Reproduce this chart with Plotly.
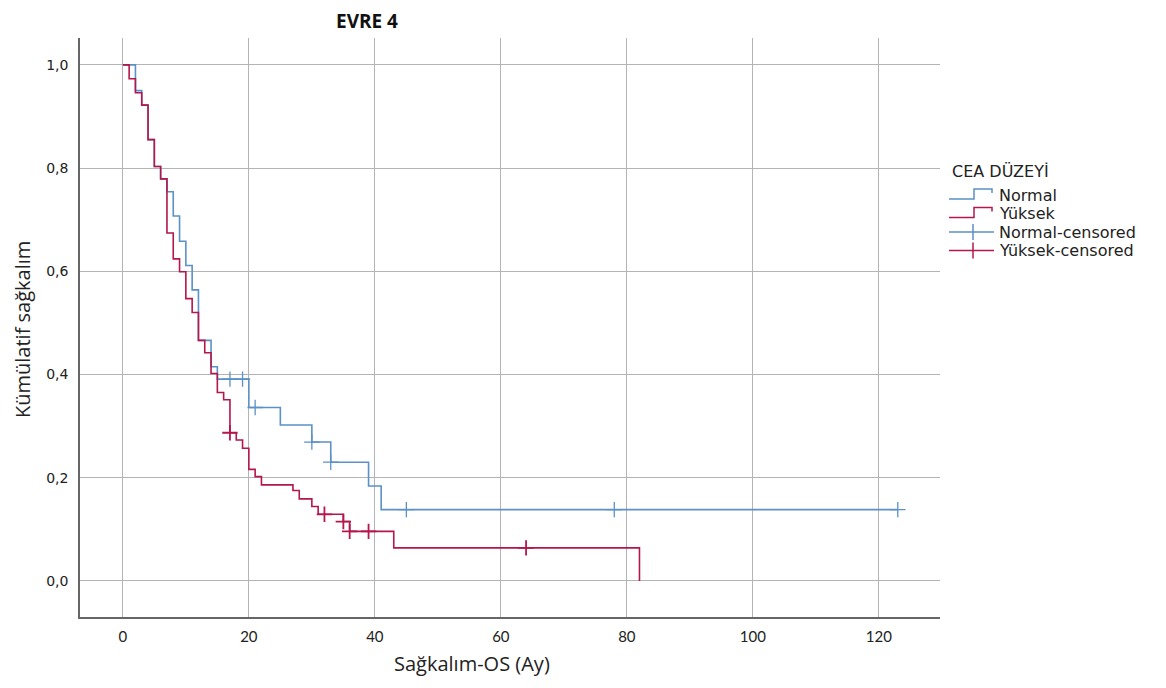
import plotly.graph_objects as go

# ---- data ----
normal_t = [0, 2, 3, 4, 5, 6, 7, 8, 9, 10, 11, 12, 14, 15, 20, 25, 30, 33, 39, 41, 123]
normal_s = [1.0, 0.95, 0.922, 0.855, 0.803, 0.779, 0.754, 0.707, 0.658, 0.611, 0.564,
            0.466, 0.415, 0.391, 0.336, 0.302, 0.269, 0.230, 0.184, 0.138, 0.138]
normal_cens_t = [17, 19, 21, 30, 33, 45, 78, 123]
normal_cens_s = [0.391, 0.391, 0.336, 0.269, 0.230, 0.138, 0.138, 0.138]

yuksek_t = [0, 1, 2, 3, 4, 5, 6, 7, 8, 9, 10, 11, 12, 13, 14, 15, 16, 17, 18, 19, 20,
            21, 22, 27, 28, 30, 31, 35, 36, 43, 82]
yuksek_s = [1.0, 0.973, 0.946, 0.922, 0.855, 0.803, 0.779, 0.674, 0.624, 0.599, 0.547,
            0.520, 0.466, 0.442, 0.402, 0.365, 0.351, 0.287, 0.273, 0.257, 0.216,
            0.202, 0.186, 0.175, 0.159, 0.144, 0.129, 0.115, 0.096, 0.064, 0.0]
yuksek_cens_t = [17, 32, 35, 36, 39, 64]
yuksek_cens_s = [0.287, 0.129, 0.115, 0.096, 0.096, 0.064]

x_ticks = [0, 20, 40, 60, 80, 100, 120]
y_ticks = [0.0, 0.2, 0.4, 0.6, 0.8, 1.0]

legend_title = "CEA DÜZEYİ"
legend_names = ["Normal", "Yüksek", "Normal-censored", "Yüksek-censored"]

BLUE = "#5b91c6"
RED = "#b3174b"
TXT = "#222222"

W, H = 1166, 688
L, R, T, B = 80, 226, 38, 71
pw, ph = W - L - R, H - T - B


def px(xp):
    return (xp - L) / pw


def py(yp):
    return (H - B - yp) / ph


fig = go.Figure()
fig.add_trace(go.Scatter(x=normal_t, y=normal_s, mode="lines", line_shape="hv",
                         line=dict(color=BLUE, width=1.6), name=legend_names[0],
                         showlegend=False))
fig.add_trace(go.Scatter(x=yuksek_t, y=yuksek_s, mode="lines", line_shape="hv",
                         line=dict(color=RED, width=1.6), name=legend_names[1],
                         showlegend=False))
fig.add_trace(go.Scatter(x=normal_cens_t, y=normal_cens_s, mode="markers",
                         marker=dict(symbol="cross-thin", size=11,
                                     line=dict(color=BLUE, width=1.3)),
                         name=legend_names[2], showlegend=False))
fig.add_trace(go.Scatter(x=yuksek_cens_t, y=yuksek_cens_s, mode="markers",
                         marker=dict(symbol="cross-thin", size=11,
                                     line=dict(color=RED, width=1.8)),
                         name=legend_names[3], showlegend=False))

fig.update_layout(
    width=W, height=H,
    margin=dict(l=L, r=R, t=T, b=B),
    paper_bgcolor="white", plot_bgcolor="white",
    separators=",.",
    showlegend=False,
    xaxis=dict(range=[-6.8, 129.7], tickvals=x_ticks, ticktext=[str(v) for v in x_ticks],
               showgrid=True, gridcolor="#b4b4b4", gridwidth=1,
               showline=True, linecolor="#666", linewidth=1.5,
               zeroline=False, ticks="", ticklabelstandoff=5,
               tickfont=dict(family="Lato, Open Sans", size=15, color=TXT)),
    yaxis=dict(range=[-0.07, 1.052], tickvals=y_ticks, tickformat=".1f",
               showgrid=True, gridcolor="#b4b4b4", gridwidth=1,
               showline=True, linecolor="#666", linewidth=1.5,
               zeroline=False, ticks="", ticklabelstandoff=7,
               tickfont=dict(family="DejaVu Sans, Arial", size=14, color=TXT)),
)

# titles
fig.add_annotation(text="<b>EVRE 4</b>", x=px(367), y=py(21), xref="paper", yref="paper",
                   showarrow=False, xanchor="center", yanchor="middle",
                   font=dict(family="Open Sans", size=19, color="#111"))
fig.add_annotation(text="Sağkalım-OS (Ay)", x=px(472), y=py(663), xref="paper", yref="paper",
                   showarrow=False, xanchor="center", yanchor="middle",
                   font=dict(family="Open Sans", size=20, color=TXT))
fig.add_annotation(text="Kümülatif sağkalım", x=px(22), y=py(330), xref="paper", yref="paper",
                   showarrow=False, xanchor="center", yanchor="middle", textangle=-90,
                   font=dict(family="Open Sans", size=20, color=TXT))

# legend (drawn manually to match the tight SPSS layout)
fig.add_annotation(text=legend_title, x=px(950), y=py(172), xref="paper", yref="paper",
                   showarrow=False, xanchor="left", yanchor="middle",
                   font=dict(family="DejaVu Sans, Arial", size=16, color=TXT))
item_y = [195, 213.5, 232, 250.5]
item_col = [BLUE, RED, BLUE, RED]
for name, yc, col, k in zip(legend_names, item_y, item_col, range(4)):
    fig.add_annotation(text=name, x=px(997), y=py(yc), xref="paper", yref="paper",
                       showarrow=False, xanchor="left", yanchor="middle",
                       font=dict(family="DejaVu Sans, Arial", size=16, color=TXT))
    if k < 2:
        path = (f"M {px(949)} {py(yc + 4)} L {px(974)} {py(yc + 4)} "
                f"L {px(974)} {py(yc - 6)} L {px(992)} {py(yc - 6)} L {px(992)} {py(yc - 2)}")
        fig.add_shape(type="path", path=path, xref="paper", yref="paper",
                      line=dict(color=col, width=1.5))
    else:
        fig.add_shape(type="line", x0=px(949), x1=px(994), y0=py(yc), y1=py(yc),
                      xref="paper", yref="paper", line=dict(color=col, width=1.3))
        fig.add_shape(type="line", x0=px(973), x1=px(973), y0=py(yc - 8), y1=py(yc + 8),
                      xref="paper", yref="paper", line=dict(color=col, width=1.5))

fig.write_html("out.html")
